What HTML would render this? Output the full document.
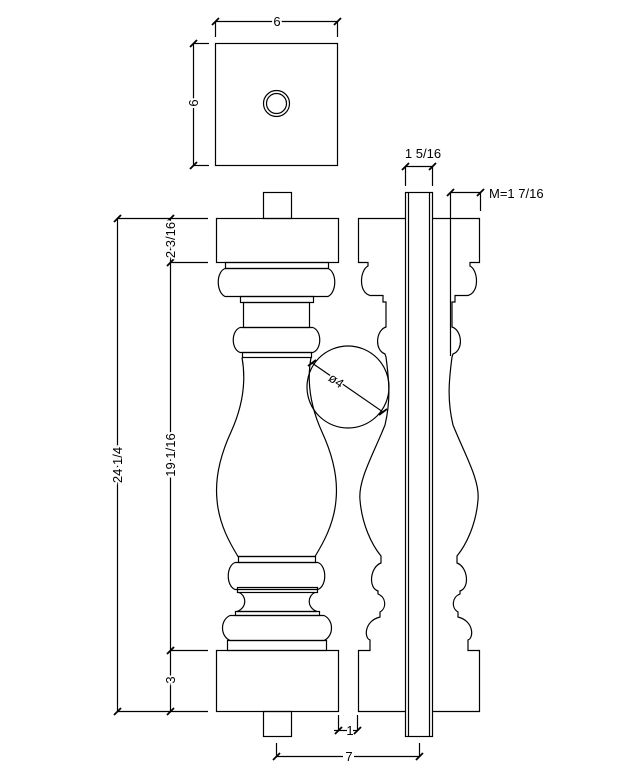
<!DOCTYPE html>
<html><head><meta charset="utf-8"><style>
html,body{margin:0;padding:0;background:#fff;}
svg{display:block;}
text{font-family:"Liberation Sans",sans-serif;font-size:13px;fill:#000;}
</style></head><body>
<svg width="618" height="778" viewBox="0 0 618 778" xmlns="http://www.w3.org/2000/svg">
<g fill="none" stroke="#000" stroke-width="1.2">
<!-- top view -->
<rect x="215.5" y="43.5" width="122" height="122"/>
<circle cx="276.5" cy="103.5" r="13"/>
<circle cx="276.5" cy="103.5" r="10"/>
<line x1="215.5" y1="21.5" x2="337.5" y2="21.5"/>
<line x1="215.5" y1="22" x2="215.5" y2="37"/>
<line x1="337.5" y1="22" x2="337.5" y2="37"/>
<line x1="193.5" y1="43.5" x2="193.5" y2="165.5"/>
<line x1="193" y1="43.5" x2="209" y2="43.5"/>
<line x1="193" y1="165.5" x2="209" y2="165.5"/>
<path d="M212,25 L219,18 M334,25 L341,18 M190,47 L197,40 M190,169 L197,162" stroke-width="1.8"/>

<!-- front view -->
<rect x="263.5" y="192.5" width="28" height="26"/>
<rect x="216.5" y="218.5" width="122" height="44"/>
<rect x="225.5" y="262.5" width="103" height="6"/>
<path d="M225,268.5 L328,268.5 C337,272 337,292 328,296.5 L225,296.5 C216,292 216,272 225,268.5 Z"/>
<rect x="240.5" y="296.5" width="73" height="6"/>
<rect x="243.5" y="302.5" width="66" height="25"/>
<path d="M240,327.5 L313,327.5 C322,331 322,349 313,352.5 L240,352.5 C231,349 231,331 240,327.5 Z"/>
<rect x="242.5" y="352.5" width="69" height="5"/>
<path d="M311,357.5 C306,385 312,410 322,432 C334,458 338,480 336,500 C334,525 322,545 315,556.5 L238,556.5 C231,545 219,525 217,500 C215,480 219,458 231,432 C241,410 247,385 242,357.5"/>
<rect x="238.5" y="556.5" width="77" height="6"/>
<path d="M235,562.5 L318,562.5 C327,566 327,586 318,589.5 L235,589.5 C226,586 226,566 235,562.5 Z"/>
<rect x="237.5" y="587.5" width="80" height="5"/>
<path d="M239,592.5 C247,596 247,608 237,611.5 L317,611.5 C307,608 307,596 315,592.5"/>
<rect x="235.5" y="611.5" width="84" height="4"/>
<path d="M230,615.5 L324,615.5 C334,620 334,636 324,640.5 L230,640.5 C220,636 220,620 230,615.5 Z"/>
<rect x="227.5" y="640.5" width="99" height="10"/>
<rect x="216.5" y="650.5" width="122" height="61"/>
<rect x="263.5" y="711.5" width="28" height="25"/>

<!-- left dims -->
<line x1="117.5" y1="218.5" x2="117.5" y2="711.5"/>
<line x1="170.5" y1="218.5" x2="170.5" y2="711.5"/>
<line x1="117" y1="218.5" x2="208" y2="218.5"/>
<line x1="170" y1="262.5" x2="208" y2="262.5"/>
<line x1="170" y1="650.5" x2="208" y2="650.5"/>
<line x1="117" y1="711.5" x2="208" y2="711.5"/>
<path d="M114,222 L121,215 M167,222 L174,215 M167,266 L174,259 M167,654 L174,647 M114,715 L121,708 M167,715 L174,708" stroke-width="1.8"/>

<!-- bottom dims -->
<line x1="338.5" y1="715" x2="338.5" y2="731"/>
<line x1="357.5" y1="715" x2="357.5" y2="731"/>
<line x1="334" y1="730.5" x2="347" y2="730.5"/>
<line x1="353" y1="730.5" x2="358" y2="730.5"/>
<line x1="276.5" y1="743" x2="276.5" y2="756"/>
<line x1="276.5" y1="756.5" x2="343" y2="756.5"/>
<line x1="354" y1="756.5" x2="419.5" y2="756.5"/>
<line x1="419.5" y1="743" x2="419.5" y2="756"/>
<path d="M335,734 L342,727 M354,734 L361,727 M273,760 L280,753 M416,760 L423,753" stroke-width="1.8"/>

<!-- side view -->
<rect x="405.5" y="192.5" width="27" height="544"/>
<line x1="408.5" y1="192.5" x2="408.5" y2="736.5"/>
<line x1="429.5" y1="192.5" x2="429.5" y2="736.5"/>
<g id="prof">
<path d="M405,218.5 L358.5,218.5 L358.5,262.5 L368,262.5 L368,266 C360,270 358,292 370,295.5 L383,295.5 L383,302 L386,302 L386,327 C376,330 374,350 385,354 L386,357 C389,380 391,400 385,425 C373,455 358,480 360,500 C362,525 372,545 381,556 L381,563 C370,567 368,588 378,591 L378,594 C386,597 387,608 380,612 L380,617 C364,621 364,638 370,640 L370,650.5 L358.5,650.5 L358.5,711.5 L405,711.5"/>
</g>
<use href="#prof" transform="translate(838,0) scale(-1,1)"/>
<!-- side dims -->
<line x1="405.5" y1="166.5" x2="432.5" y2="166.5"/>
<line x1="405.5" y1="167" x2="405.5" y2="186"/>
<line x1="432.5" y1="167" x2="432.5" y2="186"/>
<line x1="450.5" y1="192.5" x2="480.5" y2="192.5"/>
<line x1="450.5" y1="193" x2="450.5" y2="356"/>
<line x1="480.5" y1="193" x2="480.5" y2="211"/>
<path d="M402,170 L409,163 M429,170 L436,163 M447,196 L454,189 M477,196 L484,189" stroke-width="1.8"/>

<!-- circle -->
<circle cx="348" cy="387" r="41"/>
<line x1="312" y1="363" x2="383" y2="412"/>
<path d="M308,366 L316,360 M379,415 L387,409" stroke-width="1.8"/>
</g>
<g>
<text x="277" y="26" text-anchor="middle" stroke="#fff" stroke-width="4" paint-order="stroke">6</text>
<text x="198" y="103" text-anchor="middle" transform="rotate(-90 198 103)" stroke="#fff" stroke-width="4" paint-order="stroke">6</text>
<text x="122" y="465" text-anchor="middle" transform="rotate(-90 122 465)" stroke="#fff" stroke-width="4" paint-order="stroke">24 1/4</text>
<text x="175" y="240" text-anchor="middle" transform="rotate(-90 175 240)" stroke="#fff" stroke-width="4" paint-order="stroke">2 3/16</text>
<text x="175" y="455" text-anchor="middle" transform="rotate(-90 175 455)" stroke="#fff" stroke-width="4" paint-order="stroke">19 1/16</text>
<text x="175" y="680" text-anchor="middle" transform="rotate(-90 175 680)" stroke="#fff" stroke-width="4" paint-order="stroke">3</text>
<text x="350" y="735" text-anchor="middle">1</text>
<text x="349" y="761" text-anchor="middle">7</text>
<text x="423" y="158" text-anchor="middle">1 5/16</text>
<text x="489" y="198">M=1 7/16</text>
<text x="336" y="385" text-anchor="middle" transform="rotate(35 336 381)" stroke="#fff" stroke-width="3" paint-order="stroke">ø4</text>
</g>
</svg>
</body></html>
